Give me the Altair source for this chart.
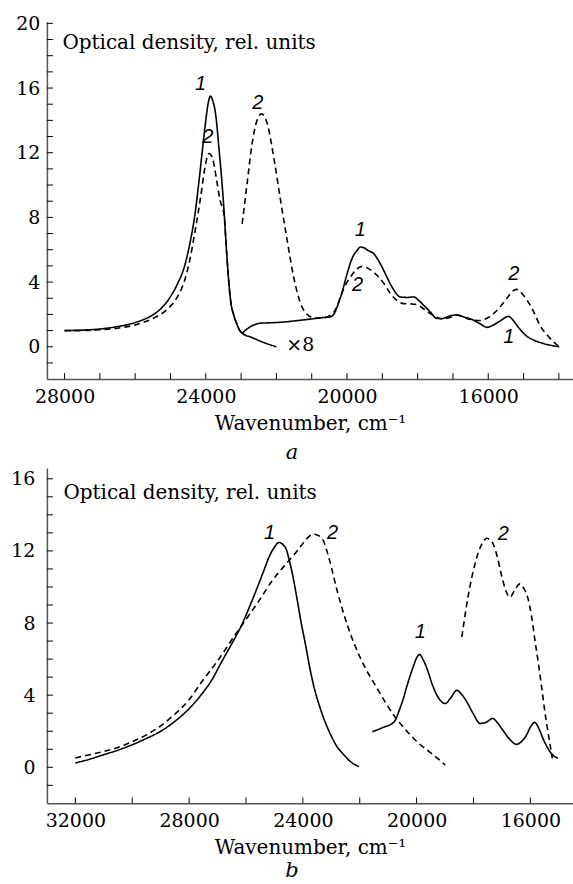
import altair as alt
import pandas as pd

# ---------------- top panel (a) ----------------
a1_main_x = [28000, 27500, 27000, 26500, 26000, 25600, 25300, 25000, 24800, 24600, 24450, 24300, 24200, 24100,
             24000, 23930, 23870, 23800, 23730, 23620, 23540, 23480, 23415, 23300, 23200, 23130, 23050, 22970,
             22700, 22400, 22200, 22000]
a1_main_y = [1.0, 1.03, 1.1, 1.25, 1.5, 1.85, 2.3, 3.1, 3.9, 5.0, 6.4, 8.3, 10.1, 12.1,
             14.0, 15.1, 15.5, 15.2, 14.5, 12.1, 10.1, 8.3, 6.0, 2.9, 1.9, 1.46, 1.05, 0.84,
             0.58, 0.3, 0.14, 0.0]
a2_main_x = [28000, 27500, 27000, 26500, 26000, 25500, 25100, 24800, 24600, 24450, 24300, 24150, 24030, 23960,
             23900, 23840, 23780, 23700, 23600, 23480, 23415, 23300, 23200, 23130, 23050, 22970]
a2_main_y = [1.0, 1.0, 1.05, 1.15, 1.35, 1.75, 2.3, 3.1, 4.1, 5.4, 7.2, 9.2, 11.0, 11.75,
             11.95, 11.8, 11.4, 10.4, 9.1, 8.1, 6.0, 2.9, 1.9, 1.46, 1.05, 0.84]
a1_x8_x = [22970, 22800, 22600, 22450, 22200, 22000, 21700, 21400, 21000, 20700, 20471, 20350, 20282, 20150,
           20000, 19850, 19700, 19622, 19500, 19400, 19245, 19050, 18868, 18700, 18490, 18300, 18113, 17960,
           17830, 17640, 17453, 17300, 17100, 16890, 16700, 16415, 16200, 16040, 15850, 15660, 15425, 15300,
           15190, 15050, 14906, 14700, 14435, 14200, 13990]
a1_x8_y = [0.84, 1.15, 1.38, 1.46, 1.48, 1.5, 1.55, 1.62, 1.72, 1.8, 1.85, 2.1, 2.46, 3.3,
           4.5, 5.5, 6.0, 6.17, 6.1, 5.95, 5.76, 5.1, 4.3, 3.6, 3.08, 3.05, 3.08, 2.85,
           2.57, 2.15, 1.75, 1.75, 1.9, 1.97, 1.85, 1.64, 1.38, 1.2, 1.35, 1.6, 1.88, 1.65,
           1.33, 0.95, 0.65, 0.4, 0.2, 0.08, 0.0]
a2_x8_x = [22970, 22830, 22690, 22550, 22420, 22260, 22075, 21886, 21697, 21510, 21320, 21130, 20950, 20700,
           20471, 20300, 20188, 20050, 19905, 19750, 19574, 19400, 19150, 18950, 18773, 18580, 18396, 18200,
           18019, 17800, 17641, 17450, 17300, 17100, 16887, 16650, 16415, 16225, 16050, 15850, 15650, 15470,
           15300, 15200, 15050, 14906, 14700, 14530, 14300, 14150, 13990]
a2_x8_y = [7.6, 10.1, 12.55, 14.0, 14.4, 13.8, 11.7, 9.1, 6.6, 4.3, 2.7, 2.0, 1.8, 1.78,
           1.95, 2.4, 3.08, 3.8, 4.31, 4.75, 4.97, 4.85, 4.42, 3.9, 3.29, 2.85, 2.67, 2.65,
           2.6, 2.3, 2.05, 1.82, 1.72, 1.8, 1.95, 1.78, 1.65, 1.62, 1.75, 2.05, 2.5, 3.0,
           3.45, 3.55, 3.3, 2.9, 2.1, 1.3, 0.65, 0.3, 0.0]

a_lab_text = ["1", "2", "2", "1", "2", "2", "1"]
a_lab_x = [24150, 23945, 22530, 19622, 19700, 15280, 15420]
a_lab_y = [16.25, 12.96, 15.1, 7.2, 3.8, 4.5, 0.6]
a_x8_text = ["×8"]
a_x8_x = [21720]
a_x8_y = [0.1]

a_xdomain = [13600, 28500]
a_ydomain = [-2, 20.1]
a_xlabels = [28000, 24000, 20000, 16000]
a_ylabels = [0, 4, 8, 12, 16, 20]
a_xticks = list(range(14000, 28001, 1000))
a_yticks = list(range(-1, 21, 1))

# ---------------- bottom panel (b) ----------------
b1_main_x = [32000, 31500, 31000, 30500, 30000, 29500, 29000, 28500, 28000, 27560, 27200, 26860, 26500, 26160,
             25850, 25577, 25350, 25170, 25000, 24843, 24700, 24587, 24450, 24353, 24200, 24063, 23900, 23773,
             23600, 23423, 23200, 23014, 22800, 22550, 22300, 22024]
b1_main_y = [0.24, 0.45, 0.7, 0.95, 1.25, 1.6, 2.0, 2.55, 3.25, 4.05, 4.85, 5.84, 6.85, 7.86,
             9.0, 10.07, 11.0, 11.73, 12.2, 12.47, 12.35, 12.1, 11.3, 10.62, 9.3, 8.05, 6.75, 5.65,
             4.4, 3.44, 2.45, 1.78, 1.15, 0.68, 0.28, 0.04]
b2_main_x = [32000, 31500, 31000, 30500, 30000, 29500, 29000, 28500, 28000, 27560, 27000, 26395, 26000, 25577,
             25100, 24646, 24300, 24063, 23850, 23633, 23450, 23304, 23073, 22780, 22430, 21965, 21381, 20801,
             20450, 20101, 19750, 19402, 18993]
b2_main_y = [0.52, 0.7, 0.88, 1.1, 1.42, 1.8, 2.3, 2.95, 3.75, 4.73, 5.9, 7.31, 8.2, 9.15,
             10.3, 11.18, 11.8, 12.28, 12.7, 12.93, 12.85, 12.65, 11.55, 9.71, 7.86, 6.02, 4.36, 2.89,
             2.2, 1.6, 1.1, 0.68, 0.13]
b1_sec_x = [21556, 21200, 20801, 20600, 20450, 20332, 20101, 19990, 19890, 19780, 19633, 19450, 19283, 19130,
            18993, 18800, 18584, 18420, 18234, 18000, 17769, 17550, 17325, 17170, 17010, 16750, 16486, 16300,
            16137, 15990, 15846, 15700, 15556, 15400, 15262, 15031]
b1_sec_y = [1.97, 2.2, 2.5, 3.2, 3.9, 4.55, 5.65, 6.1, 6.25, 6.0, 5.47, 4.6, 3.99, 3.65,
            3.54, 3.85, 4.27, 4.05, 3.63, 2.95, 2.43, 2.5, 2.71, 2.5, 2.15, 1.6, 1.27, 1.45,
            1.78, 2.25, 2.49, 2.15, 1.6, 1.1, 0.77, 0.5]
b2_sec_x = [18410, 18260, 18119, 17960, 17828, 17680, 17535, 17420, 17303, 17150, 17010, 16850, 16720, 16540,
            16371, 16220, 16080, 15960, 15846, 15720, 15612, 15500, 15381, 15300, 15227]
b2_sec_y = [7.22, 8.8, 10.07, 11.2, 11.92, 12.45, 12.7, 12.6, 12.37, 11.6, 10.62, 9.75, 9.43, 9.85,
            10.17, 9.9, 9.34, 8.4, 7.13, 5.8, 4.55, 3.2, 1.97, 1.2, 0.5]

b_lab_text = ["1", "2", "1", "2"]
b_lab_x = [25170, 22960, 19870, 16950]
b_lab_y = [13.0, 13.0, 7.5, 12.93]

b_xdomain = [14500, 33000]
b_ydomain = [-2, 16.6]
b_xlabels = [32000, 28000, 24000, 20000, 16000]
b_ylabels = [0, 4, 8, 12, 16]
b_xticks = list(range(16000, 32001, 2000))
b_yticks = list(range(-1, 17, 1))

YTITLE = "Optical density, rel. units"
XTITLE = "Wavenumber, cm⁻¹"
SERIF = "DejaVu Serif"


def frame(parts):
    rows = []
    for curve, seg, xs, ys in parts:
        for x, y in zip(xs, ys):
            rows.append({"wn": x, "od": y, "curve": curve, "seg": seg})
    return pd.DataFrame(rows)


def panel(df, xdomain, ydomain, xlabels, ylabels, xticks, yticks, labs, W, H,
          ylabpad, title_x, title_y, letter, letter_offset, extra=None):
    xs = alt.Scale(domain=xdomain, reverse=True, nice=False, zero=False)
    ys = alt.Scale(domain=ydomain, nice=False, zero=False)
    xaxis = alt.Axis(values=xlabels, format="d", ticks=False, grid=False, labelPadding=8,
                     title=XTITLE, titlePadding=7, labelFlush=False,
                     labelFont=SERIF, labelFontSize=19, labelColor="black",
                     titleFont=SERIF, titleFontSize=20, titleFontWeight="normal", titleColor="black",
                     domainColor="#555", domainWidth=1.5)
    yaxis = alt.Axis(values=ylabels, ticks=False, grid=False, labelPadding=ylabpad,
                     title=YTITLE, titleAngle=0, titleAlign="left", titleBaseline="alphabetic",
                     titleX=title_x, titleY=title_y,
                     labelFont=SERIF, labelFontSize=19, labelColor="black",
                     titleFont=SERIF, titleFontSize=20, titleFontWeight="normal", titleColor="black",
                     domainColor="#555", domainWidth=1.5)

    def X(f):
        return alt.X(f, scale=xs, axis=xaxis, title=XTITLE)

    def Y(f):
        return alt.Y(f, scale=ys, axis=yaxis, title=YTITLE)

    lines = alt.Chart(df).mark_line(color="black", strokeWidth=1.6, interpolate="monotone").encode(
        x=X("wn:Q"),
        y=Y("od:Q"),
        strokeDash=alt.StrokeDash("curve:N", scale=alt.Scale(domain=["1", "2"], range=[[1, 0], [6, 4]]),
                                  legend=None),
        detail="seg:N",
        order=alt.Order("wn:Q", sort="descending"),
    )
    xt = alt.Chart(pd.DataFrame({"wn": xticks})).mark_rule(color="black", strokeWidth=1).encode(
        x=X("wn:Q"), y=alt.value(H), y2=alt.value(H - 6))
    yt = alt.Chart(pd.DataFrame({"od": yticks})).mark_rule(color="black", strokeWidth=1).encode(
        y=Y("od:Q"), x=alt.value(0), x2=alt.value(6))
    lab = alt.Chart(labs).mark_text(font="Liberation Sans", fontStyle="italic", fontSize=20,
                                    color="black").encode(x=X("wn:Q"), y=Y("od:Q"), text="t:N")
    layers = [lines, xt, yt, lab]
    if extra is not None:
        layers.append(alt.Chart(extra).mark_text(font=SERIF, fontSize=19, align="left",
                                                 color="black").encode(
            x=X("wn:Q"), y=Y("od:Q"), text="t:N"))
    return alt.layer(*layers).properties(
        width=W, height=H,
        title=alt.TitleParams(letter, orient="bottom", font=SERIF, fontStyle="italic", fontSize=21,
                              fontWeight="normal", offset=letter_offset, dx=-18, color="black"))


dfa = frame([("1", "a1m", a1_main_x, a1_main_y), ("2", "a2m", a2_main_x, a2_main_y),
             ("1", "a1x", a1_x8_x, a1_x8_y), ("2", "a2x", a2_x8_x, a2_x8_y)])
dfb = frame([("1", "b1m", b1_main_x, b1_main_y), ("2", "b2m", b2_main_x, b2_main_y),
             ("1", "b1s", b1_sec_x, b1_sec_y), ("2", "b2s", b2_sec_x, b2_sec_y)])
laba = pd.DataFrame({"t": a_lab_text, "wn": a_lab_x, "od": a_lab_y})
labb = pd.DataFrame({"t": b_lab_text, "wn": b_lab_x, "od": b_lab_y})
x8 = pd.DataFrame({"t": a_x8_text, "wn": a_x8_x, "od": a_x8_y})

top = panel(dfa, a_xdomain, a_ydomain, a_xlabels, a_ylabels, a_xticks, a_yticks, laba, 527, 358,
            7, 15, 27, "a", 9, extra=x8)
bottom = panel(dfb, b_xdomain, b_ydomain, b_xlabels, b_ylabels, b_xticks, b_yticks, labb, 527, 336,
               12, 16, 31, "b", 3)

chart = alt.vconcat(top, bottom, spacing=89, bounds="flush").properties(
    padding={"left": 10, "top": 13, "right": 0, "bottom": 0},
    background="white",
).configure_view(strokeWidth=0, stroke="transparent")

chart.save("out.html", embed_options={"renderer": "svg", "actions": False})
